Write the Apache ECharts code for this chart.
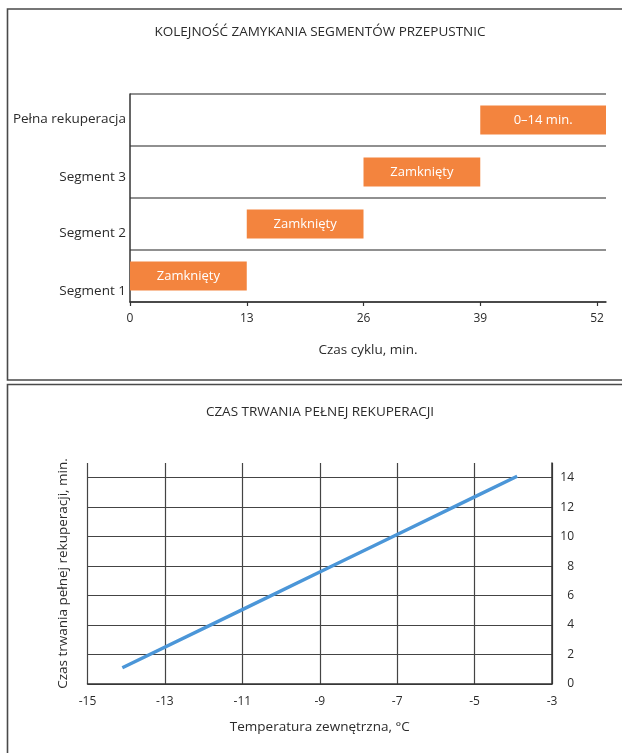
<!DOCTYPE html>
<html>
<head>
<meta charset="utf-8">
<script src="https://cdn.jsdelivr.net/npm/echarts@6/dist/echarts.min.js"></script>
<style>
html,body{margin:0;padding:0;background:#fff;}
#c{width:622px;height:753px;}
</style>
</head>
<body>
<div id="c"></div>
<script>
// ---- data ----
const categories = ['Segment 1', 'Segment 2', 'Segment 3', 'Pełna rekuperacja'];
const barStart = [0, 13, 26, 39];
const barLength = [13, 13, 13, 14];
const barLabels = ['Zamknięty', 'Zamknięty', 'Zamknięty', '0–14 min.'];
const cycleTicks = [0, 13, 26, 39, 52];
const tempX = [-14.1, -11, -9, -7, -5, -3.9];
const durationY = [1.1, 5.05, 7.6, 10.15, 12.7, 14.1];
const durationTicks = [0, 2, 4, 6, 8, 10, 12, 14];
const title1 = 'KOLEJNOŚĆ ZAMYKANIA SEGMENTÓW PRZEPUSTNIC';
const title2 = 'CZAS TRWANIA PEŁNEJ REKUPERACJI';

const FF = "'Open Sans', 'Noto Sans', sans-serif";
const TXT = '#2b2b2b';
const labelShift = [[30, 0, 0, 0], [18, 0, 0, 0], [10, 0, 0, 0], [0, 0, 2, 0]];
const rich = {};
labelShift.forEach((p, i) => { rich['o' + i] = { padding: p, fontSize: 13.5, fontFamily: FF, color: TXT }; });

const chart = echarts.init(document.getElementById('c'), null, { renderer: 'canvas' });
chart.setOption({
  animation: false,
  backgroundColor: '#fff',
  graphic: [
    { type: 'rect', shape: { x: 7.5, y: 9, width: 640, height: 371 }, style: { fill: 'none', stroke: '#4a4a4a', lineWidth: 1.6 }, silent: true },
    { type: 'rect', shape: { x: 7.5, y: 384.5, width: 640, height: 400 }, style: { fill: 'none', stroke: '#4a4a4a', lineWidth: 1.6 }, silent: true },
    { type: 'text', x: 320, y: 32, style: { text: title1, align: 'center', verticalAlign: 'middle', fontSize: 13.5, fontFamily: FF, fill: TXT } },
    { type: 'text', x: 320, y: 412, style: { text: title2, align: 'center', verticalAlign: 'middle', fontSize: 13.5, fontFamily: FF, fill: TXT } }
  ],
  grid: [
    { left: 130, top: 94, width: 476, height: 208 },
    { left: 87.5, top: 463, width: 464.5, height: 221 }
  ],
  xAxis: [
    {
      gridIndex: 0, type: 'value', min: 0, max: 53, interval: 13,
      name: 'Czas cyklu, min.', nameLocation: 'middle', nameGap: 41,
      nameTextStyle: { fontSize: 13.5, fontFamily: FF, color: TXT },
      axisLine: { show: true, onZero: false, lineStyle: { color: '#333', width: 1.5 } },
      axisTick: { show: true, length: 4, customValues: cycleTicks, lineStyle: { color: '#333', width: 1.2 } },
      axisLabel: { customValues: cycleTicks, margin: 11, fontSize: 12, fontFamily: FF, color: TXT },
      splitLine: { show: false }
    },
    {
      gridIndex: 1, type: 'value', min: -15, max: -3, interval: 2,
      name: 'Temperatura zewnętrzna, °C', nameLocation: 'middle', nameGap: 36,
      nameTextStyle: { fontSize: 13.5, fontFamily: FF, color: TXT },
      axisLine: { show: true, onZero: false, lineStyle: { color: '#333', width: 1.5 } },
      axisTick: { show: false },
      axisLabel: { margin: 12, fontSize: 12, fontFamily: FF, color: TXT },
      splitLine: { show: true, lineStyle: { color: '#444', width: 1.2 } }
    }
  ],
  yAxis: [
    {
      gridIndex: 0, type: 'category', data: categories,
      axisLine: { show: true, lineStyle: { color: '#333', width: 1.5 } },
      axisTick: { show: false },
      axisLabel: { margin: 4, formatter: (v, i) => '{o' + i + '|' + v + '}', rich: rich },
      splitLine: { show: true, lineStyle: { color: '#6b6b6b', width: 1.5 } }
    },
    {
      gridIndex: 1, type: 'value', position: 'right', min: 0, max: 15, interval: 2,
      axisLine: { show: true, onZero: false, lineStyle: { color: '#333', width: 1.5 } },
      axisTick: { show: false, customValues: durationTicks },
      axisLabel: { customValues: durationTicks, align: 'right', margin: 22, fontSize: 12, fontFamily: FF, color: TXT },
      splitLine: { show: true, lineStyle: { color: '#444', width: 1.2 } }
    },
    {
      gridIndex: 1, type: 'value', position: 'left', min: 0, max: 15,
      name: 'Czas trwania pełnej rekuperacji, min.', nameLocation: 'middle', nameGap: 17,
      nameTextStyle: { fontSize: 13.5, fontFamily: FF, color: TXT },
      axisLine: { show: false }, axisTick: { show: false }, axisLabel: { show: false }, splitLine: { show: false }
    }
  ],
  series: [
    {
      type: 'bar', xAxisIndex: 0, yAxisIndex: 0, stack: 'seq', data: barStart,
      itemStyle: { color: 'transparent' }, barWidth: 29, silent: true
    },
    {
      type: 'bar', xAxisIndex: 0, yAxisIndex: 0, stack: 'seq', data: barLength,
      itemStyle: { color: '#f3843e' }, barWidth: 29,
      label: { show: true, position: 'inside', formatter: p => barLabels[p.dataIndex], color: '#fff', fontSize: 13, fontFamily: FF }
    },
    {
      type: 'line', xAxisIndex: 1, yAxisIndex: 1,
      data: tempX.map((x, i) => [x, durationY[i]]),
      showSymbol: false, symbol: 'none',
      lineStyle: { color: '#4b96d8', width: 3.4 }
    }
  ]
});
</script>
</body>
</html>
